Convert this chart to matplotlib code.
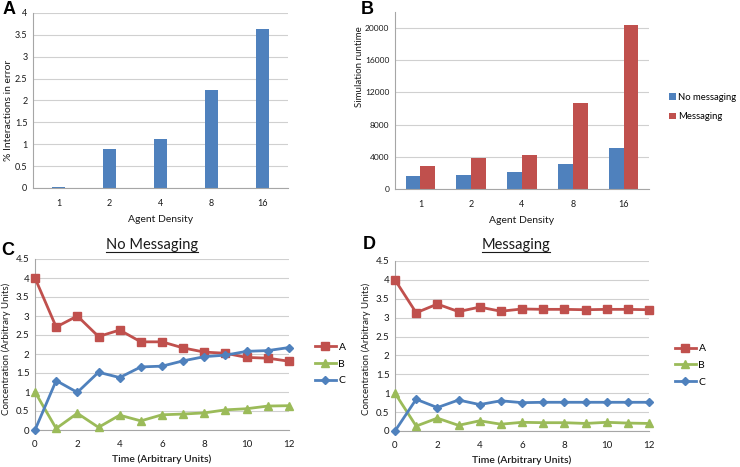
import matplotlib
matplotlib.use("Agg")
import matplotlib.pyplot as plt
from matplotlib.lines import Line2D
import numpy as np

plt.rcParams['font.family'] = ['Lato', 'DejaVu Sans']

# ---------------- data ----------------
density_labels = ["1", "2", "4", "8", "16"]
error_pct = [0.03, 0.90, 1.13, 2.23, 3.63]

runtime_no_msg = [1650, 1700, 2100, 3100, 5050]
runtime_msg = [2900, 3800, 4200, 10700, 20400]

time_pts = list(range(13))
c_A = [4.0, 2.71, 3.00, 2.46, 2.63, 2.32, 2.32, 2.16, 2.05, 2.02, 1.91, 1.89, 1.81]
c_B = [1.0, 0.04, 0.44, 0.07, 0.39, 0.24, 0.40, 0.42, 0.45, 0.53, 0.56, 0.63, 0.64]
c_C = [0.0, 1.30, 0.99, 1.52, 1.38, 1.66, 1.68, 1.82, 1.93, 1.97, 2.07, 2.09, 2.17]

d_A = [4.0, 3.13, 3.36, 3.16, 3.28, 3.17, 3.23, 3.22, 3.22, 3.21, 3.22, 3.22, 3.21]
d_B = [1.0, 0.13, 0.34, 0.15, 0.27, 0.18, 0.23, 0.22, 0.22, 0.20, 0.23, 0.21, 0.20]
d_C = [0.0, 0.84, 0.62, 0.82, 0.70, 0.80, 0.75, 0.76, 0.76, 0.76, 0.76, 0.76, 0.76]

BLUE = "#4f81bd"
RED = "#c0504d"
GREEN = "#9bbb59"
GRID = "#d0d0d0"
TXT = "#1a1a1a"

W, H = 740, 467
fig = plt.figure(figsize=(W / 100, H / 100), dpi=100)
fig.patch.set_facecolor("white")


def box(l, r, t, b):
    return [l / W, 1 - b / H, (r - l) / W, (b - t) / H]


def style(ax, fs=7):
    for s in ["top", "right"]:
        ax.spines[s].set_visible(False)
    for s in ["left", "bottom"]:
        ax.spines[s].set_color("#a6a6a6")
        ax.spines[s].set_linewidth(0.8)
    ax.grid(axis="y", color=GRID, linewidth=0.8)
    ax.set_axisbelow(True)
    ax.tick_params(length=0, labelsize=fs, colors=TXT, pad=4)


# ---------------- Panel A ----------------
axA = fig.add_axes(box(33, 288, 13, 188))
xa = np.arange(len(density_labels))
axA.bar(xa, error_pct, width=0.24, color=BLUE)
axA.set_xlim(-0.5, len(density_labels) - 0.5)
axA.set_ylim(0, 4)
axA.set_yticks(np.arange(0, 4.01, 0.5))
axA.set_yticklabels(["0", "0.5", "1", "1.5", "2", "2.5", "3", "3.5", "4"])
axA.set_xticks(xa)
axA.set_xticklabels(density_labels)
style(axA, fs=6.5)
axA.tick_params(axis="x", pad=8)
axA.set_xlabel("Agent Density", fontsize=7.5, color=TXT, labelpad=5)
fig.text(9 / W, 1 - 110 / H, "% Interactions in error", rotation=90, fontsize=7.5,
         color=TXT, ha="center", va="center")

# ---------------- Panel B ----------------
axB = fig.add_axes(box(395, 649, 12, 189))
xb = np.arange(len(density_labels))
bw = 0.29
axB.bar(xb - bw / 2, runtime_no_msg, width=bw, color=BLUE, label="No messaging")
axB.bar(xb + bw / 2, runtime_msg, width=bw, color=RED, label="Messaging")
axB.set_xlim(-0.5, len(density_labels) - 0.5)
axB.set_ylim(0, 22000)
axB.set_yticks(np.arange(0, 20001, 4000))
axB.set_xticks(xb)
axB.set_xticklabels(density_labels)
style(axB, fs=6)
axB.tick_params(axis="x", pad=8, labelsize=6.5)
axB.set_xlabel("Agent Density", fontsize=7.5, color=TXT, labelpad=5)
fig.text(359 / W, 1 - 67 / H, "Simulation runtime", rotation=90, fontsize=7,
         color=TXT, ha="center", va="center")
axB.legend(loc="center left", bbox_to_anchor=((669 - 395) / 254, (189 - 107) / 177),
           frameon=False, fontsize=6.8, handlelength=0.7, handleheight=0.7,
           handletextpad=0.25, labelspacing=1.1, borderpad=0, borderaxespad=0)


# ---------------- Panels C and D ----------------
def line_panel(box_rect, A, B, C, title, ylabel_x, title_x):
    ax = fig.add_axes(box_rect)
    ax.plot(time_pts, A, color=RED, lw=2, marker="s", ms=6, label="A", clip_on=False, zorder=3)
    ax.plot(time_pts, B, color=GREEN, lw=2, marker="^", ms=6, label="B", clip_on=False, zorder=3)
    ax.plot(time_pts, C, color=BLUE, lw=2, marker="D", ms=4.5, label="C", clip_on=False, zorder=3)
    ax.set_xlim(0, 12)
    ax.set_ylim(0, 4.5)
    ax.set_xticks(range(0, 13, 2))
    ax.set_yticks(np.arange(0, 4.51, 0.5))
    ax.set_yticklabels(["0", "0.5", "1", "1.5", "2", "2.5", "3", "3.5", "4", "4.5"])
    style(ax, fs=7)
    ax.tick_params(axis="x", pad=7)
    ax.set_xlabel("Time (Arbitrary Units)", fontsize=7.5, color=TXT, labelpad=4,
                  fontweight="semibold")
    fig.text(ylabel_x / W, 1 - 349 / H, "Concentration (Arbitrary Units)", rotation=90,
             fontsize=7, color=TXT, ha="center", va="center")
    ax.legend(loc="center left", bbox_to_anchor=(1.08, (430 - 364) / 171),
              frameon=False, fontsize=7.5, handlelength=2.1, handletextpad=0.2,
              labelspacing=0.7, borderpad=0, markerscale=0.85)
    t = fig.text(title_x / W, 1 - 245 / H, title, fontsize=10.5, color=TXT,
                 ha="center", va="center")
    return ax, t


axC, tC = line_panel(box(35, 289, 259, 430), c_A, c_B, c_C, "No Messaging", 6, 152)
axD, tD = line_panel(box(395, 649, 261, 431), d_A, d_B, d_C, "Messaging", 366, 516)

# panel letters
for txt_, x, y in [("A", 9, 10), ("B", 367, 9), ("C", 8, 251), ("D", 369, 245)]:
    fig.text(x / W, 1 - y / H, txt_, fontsize=13, fontweight="bold",
             family="Liberation Sans", ha="center", va="center", color="black")

# underline titles
fig.canvas.draw()
r = fig.canvas.get_renderer()
for t in (tC, tD):
    bb = t.get_window_extent(renderer=r)
    yline = bb.y0 - 0.5
    fig.add_artist(Line2D([bb.x0 / W, bb.x1 / W], [yline / H, yline / H],
                          transform=fig.transFigure, color=TXT, lw=0.8))

fig.savefig("out.png", dpi=100)
